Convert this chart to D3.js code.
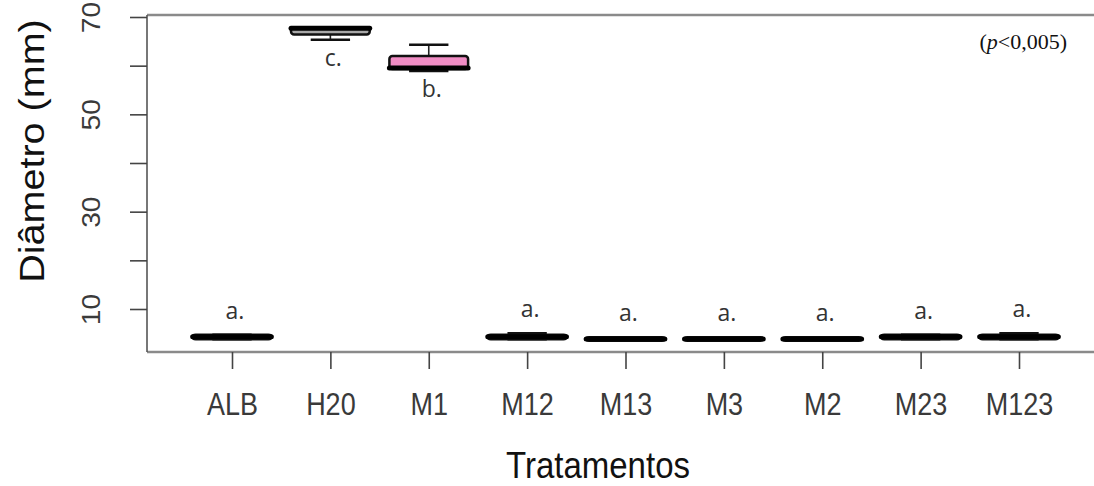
<!DOCTYPE html>
<html>
<head>
<meta charset="utf-8">
<script src="https://cdn.jsdelivr.net/npm/d3@7"></script>
<style>
body { margin: 0; background: #fff; }
#vis { width: 1094px; height: 486px; }
.axis text { font-family: "Liberation Sans", Arial, sans-serif; fill: #3a3a3a; }
.axis line { stroke: #444; stroke-width: 1.6; }
.axis path.domain { display: none; }
</style>
</head>
<body>
<div id="vis"></div>
<script>
// data
var tratamentos = ['ALB', 'H20', 'M1', 'M12', 'M13', 'M3', 'M2', 'M23', 'M123'];
var minimo  = [3.8, 65.3, 58.9, 3.8, 3.5, 3.5, 3.5, 3.8, 3.8];
var q1      = [3.8, 66.4, 59.3, 3.8, 3.5, 3.5, 3.5, 3.8, 3.8];
var mediana = [4.3, 67.7, 59.5, 4.3, 3.85, 3.85, 3.85, 4.3, 4.3];
var q3      = [4.7, 67.9, 62.0, 4.7, 4.2, 4.2, 4.2, 4.7, 4.7];
var maximo  = [4.7, 67.9, 64.3, 5.0, 4.2, 4.2, 4.2, 4.7, 5.0];
var letras  = ['a.', 'c.', 'b.', 'a.', 'a.', 'a.', 'a.', 'a.', 'a.'];
var cores   = ['#ffffff', '#a8a8a8', '#f08cc4', '#ffffff', '#ffffff', '#ffffff', '#ffffff', '#ffffff', '#ffffff'];
var y_ticks = [10, 20, 30, 40, 50, 60, 70];
var y_labels = [10, 30, 50, 70];

var width = 1094, height = 486;
var frame = { left: 147, top: 15, bottom: 352, right: 1094 };
var stretch = 1.13;

var svg = d3.select('#vis')
    .append('svg')
    .attr('width', width)
    .attr('height', height);

var x_scale = d3.scalePoint()
    .domain(tratamentos)
    .range([232, 1019]);

var y_scale = d3.scaleLinear()
    .domain([10, 70])
    .range([309, 17]);

var box_w = x_scale.step() * 0.8;

var data = tratamentos.map(function(t, i) {
    return { t: t, min: minimo[i], q1: q1[i], med: mediana[i], q3: q3[i], max: maximo[i], letra: letras[i], cor: cores[i] };
});

// frame
svg.append('line')
    .attr('x1', frame.left).attr('x2', frame.right)
    .attr('y1', frame.top).attr('y2', frame.top)
    .attr('stroke', '#8a8a8a').attr('stroke-width', 2.5);
svg.append('line')
    .attr('x1', frame.left).attr('x2', frame.right)
    .attr('y1', frame.bottom).attr('y2', frame.bottom)
    .attr('stroke', '#8a8a8a').attr('stroke-width', 2.5);
svg.append('line')
    .attr('x1', frame.left).attr('x2', frame.left)
    .attr('y1', frame.top).attr('y2', frame.bottom)
    .attr('stroke', '#555').attr('stroke-width', 1.6);

// axes
var x_axis = d3.axisBottom(x_scale).tickSize(17).tickSizeOuter(0);
var y_axis = d3.axisLeft(y_scale)
    .tickValues(y_ticks)
    .tickSize(17)
    .tickFormat(function(d) { return y_labels.indexOf(d) >= 0 ? d : ''; });

var gx = svg.append('g')
    .attr('class', 'x axis')
    .attr('transform', 'translate(0,' + frame.bottom + ')')
    .call(x_axis);
gx.selectAll('text')
    .attr('transform', 'scale(1,' + stretch + ')')
    .attr('y', 63 / stretch)
    .attr('dy', 0)
    .style('font-size', '27px');

var gy = svg.append('g')
    .attr('class', 'y axis')
    .attr('transform', 'translate(' + frame.left + ',0)')
    .call(y_axis);
gy.selectAll('text')
    .attr('transform', 'rotate(-90) scale(' + stretch + ',1)')
    .attr('x', 0)
    .attr('y', -47)
    .attr('dy', 0)
    .attr('text-anchor', 'middle')
    .style('font-size', '25px');

// boxes
var boxes = svg.selectAll('.box')
    .data(data)
    .enter()
    .append('g')
    .attr('class', 'box')
    .attr('transform', function(d) { return 'translate(' + x_scale(d.t) + ',0)'; });

// whiskers
boxes.append('line')
    .attr('y1', function(d) { return y_scale(d.max); })
    .attr('y2', function(d) { return y_scale(d.q3); })
    .attr('stroke', '#222').attr('stroke-width', 1.6);
boxes.append('line')
    .attr('y1', function(d) { return y_scale(d.min); })
    .attr('y2', function(d) { return y_scale(d.q1); })
    .attr('stroke', '#222').attr('stroke-width', 1.6);
boxes.append('line')
    .attr('x1', -box_w / 4).attr('x2', box_w / 4)
    .attr('y1', function(d) { return y_scale(d.max); })
    .attr('y2', function(d) { return y_scale(d.max); })
    .attr('stroke', '#111').attr('stroke-width', 2.5);
boxes.append('line')
    .attr('x1', -box_w / 4).attr('x2', box_w / 4)
    .attr('y1', function(d) { return y_scale(d.min); })
    .attr('y2', function(d) { return y_scale(d.min); })
    .attr('stroke', '#111').attr('stroke-width', 2.5);

boxes.append('rect')
    .attr('x', -box_w / 2)
    .attr('width', box_w)
    .attr('y', function(d) { return y_scale(d.q3); })
    .attr('height', function(d) { return y_scale(d.q1) - y_scale(d.q3); })
    .attr('rx', 3)
    .attr('fill', function(d) { return d.cor; })
    .attr('stroke', '#111')
    .attr('stroke-width', 2.5);

boxes.append('line')
    .attr('x1', -box_w / 2).attr('x2', box_w / 2)
    .attr('y1', function(d) { return y_scale(d.med); })
    .attr('y2', function(d) { return y_scale(d.med); })
    .attr('stroke', '#000')
    .attr('stroke-width', 5)
    .attr('stroke-linecap', 'round');

// letters
boxes.append('text')
    .attr('x', 3)
    .attr('y', function(d) {
        return d.med > 30 ? y_scale(d.min) + 26 : y_scale(d.max) - 16;
    })
    .attr('text-anchor', 'middle')
    .style('font-family', '"Open Sans", sans-serif')
    .style('font-size', '23px')
    .style('fill', '#333')
    .text(function(d) { return d.letra; });

// titles
svg.append('text')
    .attr('transform', 'translate(598,478) scale(1,' + stretch + ')')
    .attr('text-anchor', 'middle')
    .style('font-family', '"Liberation Sans", Arial, sans-serif')
    .style('font-size', '33px')
    .style('fill', '#111')
    .text('Tratamentos');

svg.append('text')
    .attr('transform', 'translate(44,151) rotate(-90) scale(' + stretch + ',1)')
    .attr('text-anchor', 'middle')
    .style('font-family', '"Liberation Sans", Arial, sans-serif')
    .style('font-size', '35px')
    .style('fill', '#111')
    .text('Diâmetro (mm)');

var p = svg.append('text')
    .attr('x', 1067)
    .attr('y', 49)
    .attr('text-anchor', 'end')
    .style('font-family', '"Liberation Serif", "Times New Roman", serif')
    .style('font-size', '22px')
    .style('fill', '#111');
p.append('tspan').text('(');
p.append('tspan').style('font-style', 'italic').text('p');
p.append('tspan').text('<0,005)');
</script>
</body>
</html>
